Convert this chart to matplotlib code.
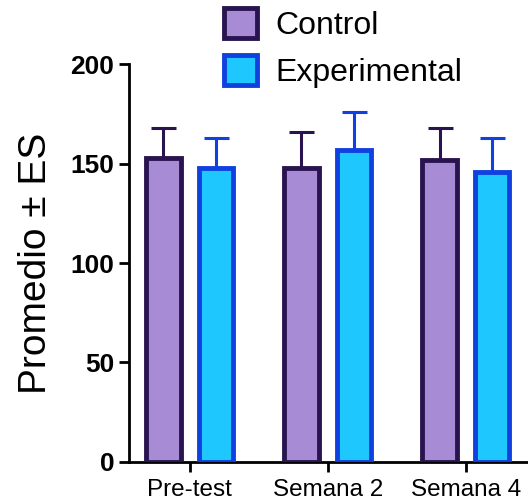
import matplotlib.pyplot as plt
import numpy as np

plt.rcParams['font.family'] = ['Liberation Sans', 'DejaVu Sans']

# data
groups = ['Pre-test', 'Semana 2', 'Semana 4']
control_mean = [153, 148, 152]
control_err = [15, 18, 16]
exp_mean = [148, 157, 146]
exp_err = [15, 19, 17]

x = np.arange(len(groups))
w = 0.25
off = 0.19

fig = plt.figure(figsize=(5.28, 5.01), dpi=100)
ax = fig.add_axes([0.244, 0.078, 0.756, 0.794])

ax.bar(x - off, control_mean, w, color='#a78bd4', edgecolor='#2a1450',
       linewidth=3.5, label='Control', zorder=3)
ax.bar(x + off, exp_mean, w, color='#1ec8ff', edgecolor='#1040e0',
       linewidth=3.5, label='Experimental', zorder=3)

# upper-only error bars
ax.errorbar(x - off, control_mean, yerr=[np.zeros(3), control_err], fmt='none',
             ecolor='#2a1450', elinewidth=2.2, capsize=9, capthick=2.2, zorder=2)
ax.errorbar(x + off, exp_mean, yerr=[np.zeros(3), exp_err], fmt='none',
             ecolor='#1040e0', elinewidth=2.2, capsize=9, capthick=2.2, zorder=2)

ax.set_ylim(0, 200)
ax.set_xlim(-0.44, 2.45)
ax.set_yticks([0, 50, 100, 150, 200])
ax.set_xticks(x)
ax.set_xticklabels(groups, fontsize=17.5)
for lbl in ax.get_yticklabels():
    lbl.set_fontsize(19)
    lbl.set_fontweight('bold')

ax.spines['top'].set_visible(False)
ax.spines['right'].set_visible(False)
ax.spines['left'].set_linewidth(2)
ax.spines['bottom'].set_linewidth(2)
ax.tick_params(axis='both', width=2, length=7)
ax.tick_params(axis='x', pad=5)
ax.set_ylabel('Promedio ± ES', fontsize=28, labelpad=12)

fig.legend(loc='upper left', bbox_to_anchor=(0.418, 0.99), frameon=False,
           fontsize=23, handlelength=1.05, handleheight=1.05, labelspacing=0.45,
           handletextpad=0.55, borderaxespad=0, borderpad=0.1)

fig.savefig('out.png', dpi=100)
